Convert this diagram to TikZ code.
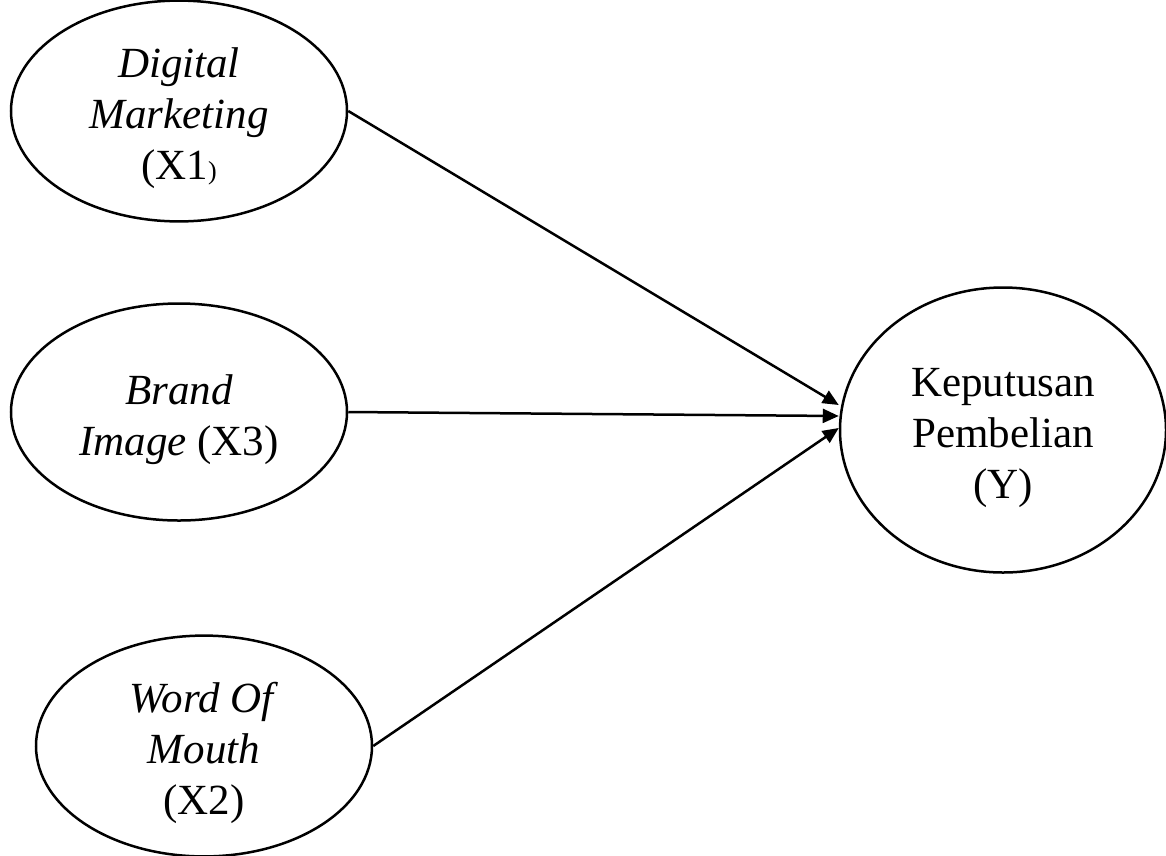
\documentclass[tikz,border=0pt]{standalone}
\usepackage{fontspec}
\setmainfont{Liberation Serif}
\usetikzlibrary{shapes, arrows.meta}
\newcommand{\lift}{\rule{0pt}{45pt}}

\begin{document}
\begin{tikzpicture}[x=1pt, y=-1pt, line width=2.5pt,
  var/.style={ellipse, draw=black, inner sep=0pt, align=center, font=\fontsize{43}{51}\selectfont},
  link/.style={-{Triangle[length=16pt, width=14pt]}}]
\useasboundingbox (0,0) rectangle (1166,855);

\node[var, minimum width=336pt, minimum height=213pt] (1) at (179,111) {\lift\textit{Digital}\\ \textit{Marketing}\\ (X1{\fontsize{26}{26}\selectfont )}};
\node[var, minimum width=336pt, minimum height=217pt] (2) at (179,412) {\lift\textit{Brand}\\ \textit{Image} (X3)};
\node[var, minimum width=336pt, minimum height=213pt] (3) at (204,746) {\lift\textit{Word Of}\\ \textit{Mouth}\\ (X2)};
\node[var, minimum width=326pt, minimum height=285pt] (4) at (1003,430) {\lift Keputusan\\ Pembelian\\ (Y)};

\draw[link] (1.east) -- ([yshift=25pt]4.west);
\draw[link] (2.east) -- ([yshift=14pt]4.west);
\draw[link] (3.east) -- ([yshift=2pt]4.west);
\end{tikzpicture}
\end{document}
